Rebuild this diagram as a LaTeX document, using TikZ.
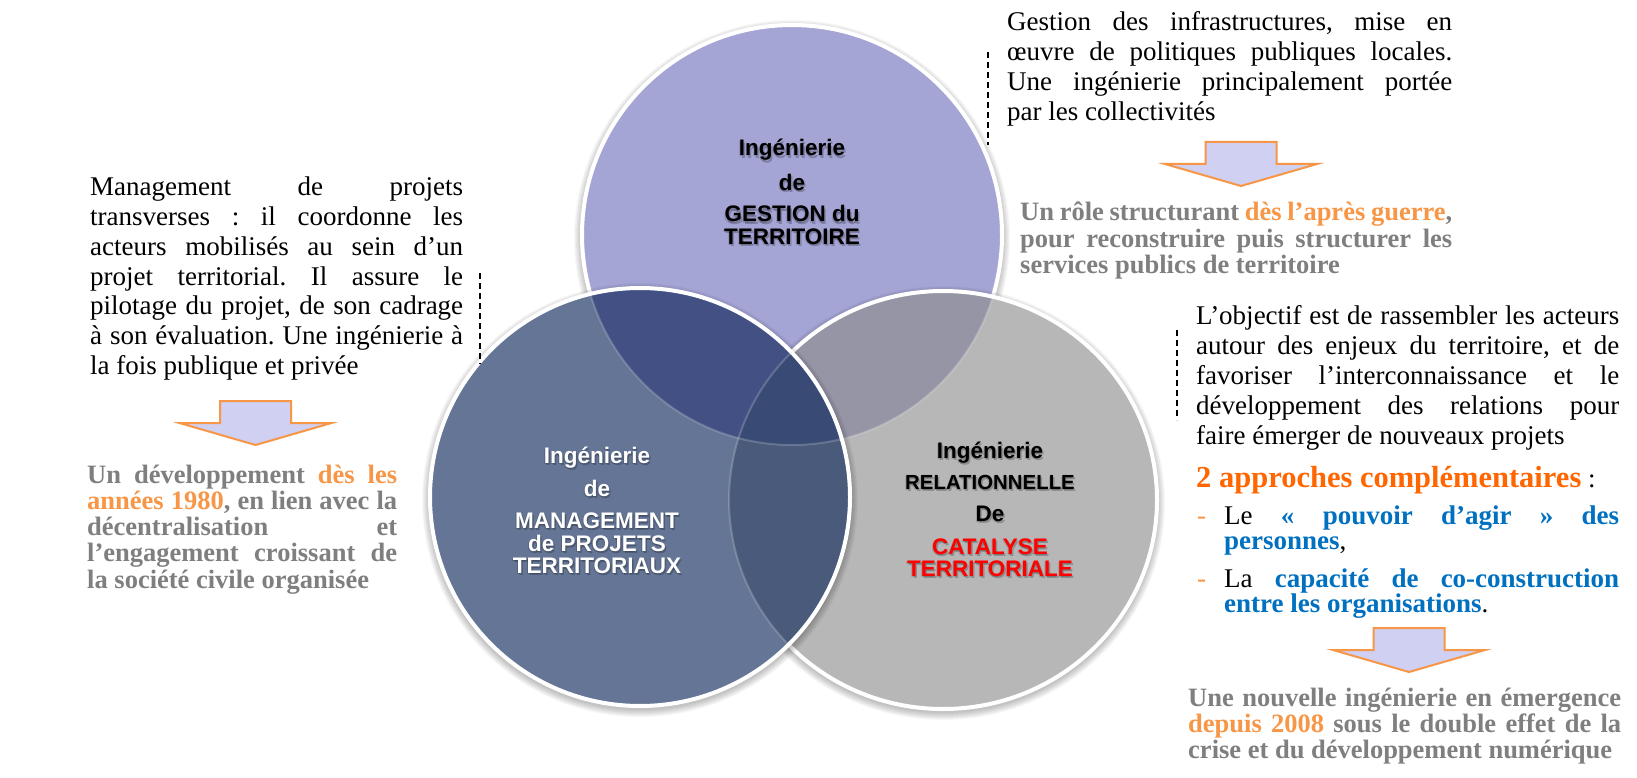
\documentclass[tikz,border=0pt]{standalone}
\usepackage{fontspec}
\setmainfont{Liberation Serif}
\setsansfont{Liberation Sans}
\usetikzlibrary{calc}
\definecolor{tgray}{HTML}{7F7F7F}
\definecolor{lorange}{HTML}{F79646}
\definecolor{sorange}{HTML}{FF6600}
\definecolor{tblue}{HTML}{0070C0}
\definecolor{arrowfill}{HTML}{D0D0F2}
\definecolor{cG}{HTML}{A5A5D5}
\definecolor{cM}{HTML}{657595}
\definecolor{cR}{HTML}{B7B7B7}
\definecolor{cGM}{HTML}{425083}
\definecolor{cGR}{HTML}{9595A6}
\definecolor{cMR}{HTML}{4A5A7B}
\definecolor{cGMR}{HTML}{394A75}
\definecolor{tred}{HTML}{FF0000}
\frenchspacing
\newcommand\jbox[2]{\makebox[#1][s]{#2}}
\newcommand\ctext[5]{%
  \node[#4,text=black,opacity=.22,xshift=1.5pt,yshift=-2.5pt] (#1s) at (#2,#3) {#5};
  \node[#4,text=black,opacity=.15,xshift=-1pt,yshift=-1pt] (#1t) at (#2,#3) {#5};
  \node[#4] (#1) at (#2,#3) {#5};}
% soft shadow: #1 centre, #2 x radius, #3 y radius
\newcommand\softshadow[3]{%
  \foreach \i in {1,...,8}{\fill[black,opacity=.03] ($(#1)+(0,3)$) circle[x radius=#2+\i pt,y radius=#3+\i pt];}}
\begin{document}
\begin{tikzpicture}[x=1pt,y=-1pt,
  body/.style={anchor=base west,inner sep=0pt,font=\fontsize{27}{30}\selectfont\frenchspacing},
  gbody/.style={anchor=base west,inner sep=0pt,text=tgray,font=\fontsize{26.5}{28}\selectfont\bfseries\frenchspacing},
  ctitle/.style={anchor=base,inner sep=0pt,font=\fontsize{22.5}{26}\selectfont\sffamily\bfseries},
  csmall/.style={anchor=base,inner sep=0pt,font=\fontsize{20.4}{24}\selectfont\sffamily\bfseries},
  leader/.style={draw=black,line width=1.5pt,dash pattern=on 6pt off 4pt},
  rim/.style={draw=white,line width=4pt},
  bigarrow/.style={fill=arrowfill,draw=lorange,line width=2pt,line join=miter},
  pics/darrow/.style={code={\draw[bigarrow] (-35.5,0) -- (35.5,0) -- (35.5,22) -- (76,22) -- (0,44) -- (-76,22) -- (-35.5,22) -- cycle;}}
]
\useasboundingbox (0,0) rectangle (1637,778);
\fill[white] (0,0) rectangle (1637,778);

% circle centres
\coordinate (cg) at (792,235);
\coordinate (cm) at (640,497);
\coordinate (cr) at (943,500);
\def\gshape{(cg) circle[x radius=210pt,y radius=210pt]}
\def\mshape{(cm) circle[x radius=210pt,y radius=209pt]}
\def\rshape{(cr) circle[x radius=214pt,y radius=209pt]}

% GESTION circle
\softshadow{cg}{210pt}{210pt}
\fill[cG] \gshape;
\draw[rim] \gshape;
% gray circle
\softshadow{cr}{214pt}{209pt}
\fill[cR] \rshape;
\begin{scope}
  \clip \rshape;
  \fill[cGR] \gshape;
  \draw[white,opacity=.2,line width=2pt] \gshape;
\end{scope}
\draw[rim] \rshape;
% MANAGEMENT circle
\softshadow{cm}{210pt}{209pt}
\fill[cM] \mshape;
\begin{scope}
  \clip \mshape;
  \fill[cGM] \gshape;
  \fill[cMR] \rshape;
  \begin{scope}
    \clip \gshape;
    \fill[cGMR] \rshape;
  \end{scope}
  \draw[white,opacity=.2,line width=2pt] \gshape;
  \draw[white,opacity=.2,line width=2pt] \rshape;
\end{scope}
\draw[rim] \mshape;

% circle texts
\ctext{g1}{792}{156}{ctitle,text=black}{Ingénierie}
\ctext{g2}{792}{190}{ctitle,text=black}{de}
\ctext{g3}{792}{222}{ctitle,text=black}{GESTION du}
\ctext{g4}{792}{244}{ctitle,text=black}{TERRITOIRE}

\ctext{m1}{597}{463}{ctitle,text=white}{Ingénierie}
\ctext{m2}{597}{496}{ctitle,text=white}{de}
\ctext{m3}{597}{528}{ctitle,text=white}{MANAGEMENT}
\ctext{m4}{597}{551}{ctitle,text=white}{de PROJETS}
\ctext{m5}{597}{573}{ctitle,text=white}{TERRITORIAUX}

\ctext{r1}{990}{458}{ctitle,text=black}{Ingénierie}
\ctext{r2}{990}{489}{csmall,text=black}{RELATIONNELLE}
\ctext{r3}{990}{521}{ctitle,text=black}{De}
\ctext{r4}{990}{554}{ctitle,text=tred}{CATALYSE}
\ctext{r5}{990}{576}{ctitle,text=tred}{TERRITORIALE}

% dashed leaders
\coordinate (d1a) at (480,273); \coordinate (d1b) at (480,364);
\coordinate (d2a) at (988,52);  \coordinate (d2b) at (988,145);
\coordinate (d3a) at (1177,330); \coordinate (d3b) at (1177,420);
\draw[leader] (d1a) -- (d1b);
\draw[leader] (d2a) -- (d2b);
\draw[leader] (d3a) -- (d3b);

% arrows
\pic at (255.5,401) {darrow};
\pic at (1241,142) {darrow};
\pic at (1409,628) {darrow};

% left text
\node[body] (l1) at (90,196)   {\jbox{373pt}{Management de projets}};
\node[body] (l2) at (90,225.7) {\jbox{373pt}{transverses : il coordonne les}};
\node[body] (l3) at (90,255.4) {\jbox{373pt}{acteurs mobilisés au sein d’un}};
\node[body] (l4) at (90,285.1) {\jbox{373pt}{projet territorial. Il assure le}};
\node[body] (l5) at (90,314.8) {\jbox{373pt}{pilotage du projet, de son cadrage}};
\node[body] (l6) at (90,344.5) {\jbox{373pt}{à son évaluation. Une ingénierie à}};
\node[body] (l7) at (90,374.2) {la fois publique et privée};

\node[gbody] (lg1) at (87,483)   {\jbox{310pt}{Un développement \textcolor{lorange}{dès les}}};
\node[gbody] (lg2) at (87,509.3) {\jbox{310pt}{\textcolor{lorange}{années 1980}, en lien avec la}};
\node[gbody] (lg3) at (87,535.6) {\jbox{310pt}{décentralisation et}};
\node[gbody] (lg4) at (87,561.9) {\jbox{310pt}{l’engagement croissant de}};
\node[gbody] (lg5) at (87,588.2) {la société civile organisée};

% top right text
\node[body] (t1) at (1007,31)  {\jbox{445pt}{Gestion des infrastructures, mise en}};
\node[body] (t2) at (1007,61)  {\jbox{445pt}{œuvre de politiques publiques locales.}};
\node[body] (t3) at (1007,91)  {\jbox{445pt}{Une ingénierie principalement portée}};
\node[body] (t4) at (1007,121) {par les collectivités};

\node[gbody] (tg1) at (1020,220) {\jbox{432pt}{Un rôle structurant \textcolor{lorange}{dès l’après guerre},}};
\node[gbody] (tg2) at (1020,247) {\jbox{432pt}{pour reconstruire puis structurer les}};
\node[gbody] (tg3) at (1020,273) {services publics de territoire};

% right text
\node[body] (r6)  at (1196,324) {\jbox{423pt}{L’objectif est de rassembler les acteurs}};
\node[body] (r7)  at (1196,354) {\jbox{423pt}{autour des enjeux du territoire, et de}};
\node[body] (r8)  at (1196,384) {\jbox{423pt}{favoriser l’interconnaissance et le}};
\node[body] (r9)  at (1196,414) {\jbox{423pt}{développement des relations pour}};
\node[body] (r10) at (1196,444) {faire émerger de nouveaux projets};

\node[body] (h1) at (1196,487) {{\fontsize{30.5}{32}\selectfont\bfseries\color{sorange}2 approches complémentaires} :};

\node[body,text=lorange] (b1) at (1197,524) {-};
\node[body] (b1a) at (1224,524) {\jbox{395pt}{Le \textcolor{tblue}{\bfseries « pouvoir d’agir » des}}};
\node[body] (b1b) at (1224,549) {{\bfseries\color{tblue}personnes},};
\node[body,text=lorange] (b2) at (1197,587) {-};
\node[body] (b2a) at (1224,587) {\jbox{395pt}{La \textcolor{tblue}{\bfseries capacité de co-construction}}};
\node[body] (b2b) at (1224,612) {{\bfseries\color{tblue}entre les organisations}.};

\node[gbody] (rg1) at (1188,706) {\jbox{433pt}{Une nouvelle ingénierie en émergence}};
\node[gbody] (rg2) at (1188,732) {\jbox{433pt}{\textcolor{lorange}{depuis 2008} sous le double effet de la}};
\node[gbody] (rg3) at (1188,758) {crise et du développement numérique};
\end{tikzpicture}
\end{document}
